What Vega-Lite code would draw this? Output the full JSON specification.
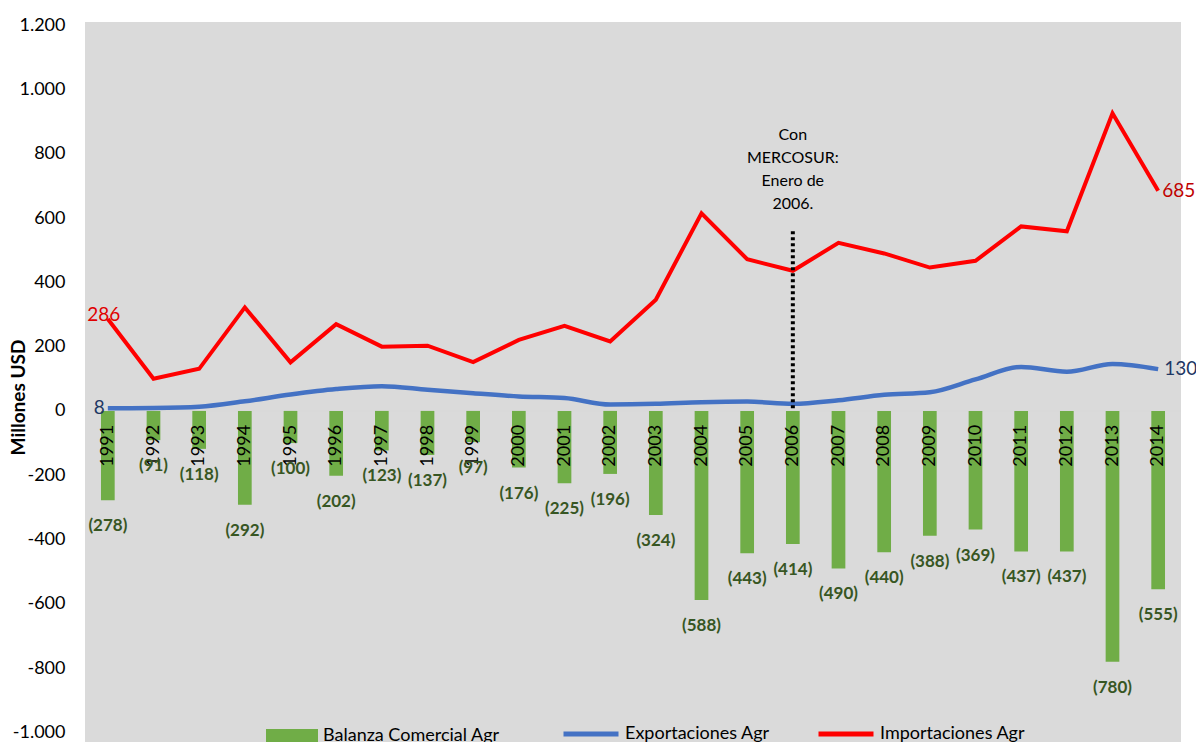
{
  "$schema": "https://vega.github.io/schema/vega-lite/v6.json",
  "width": 1096,
  "height": 720,
  "autosize": "none",
  "padding": {"left": 85, "top": 22, "right": 15, "bottom": 0},
  "background": "white",
  "config": {
    "locale": {"number": {"decimal": ",", "thousands": ".", "grouping": [3], "currency": ["$", ""], "minus": "-"}},
    "view": {"stroke": null, "fill": "#dadada"},
    "font": "Lato"
  },
  "data": {
    "values": [
      {"year": "1991", "bal": -278, "exp": 8, "imp": 286},
      {"year": "1992", "bal": -91, "exp": 9, "imp": 100},
      {"year": "1993", "bal": -118, "exp": 13, "imp": 131},
      {"year": "1994", "bal": -292, "exp": 30, "imp": 322},
      {"year": "1995", "bal": -100, "exp": 51, "imp": 151},
      {"year": "1996", "bal": -202, "exp": 68, "imp": 270},
      {"year": "1997", "bal": -123, "exp": 77, "imp": 200},
      {"year": "1998", "bal": -137, "exp": 66, "imp": 203},
      {"year": "1999", "bal": -97, "exp": 55, "imp": 152},
      {"year": "2000", "bal": -176, "exp": 45, "imp": 221},
      {"year": "2001", "bal": -225, "exp": 40, "imp": 265},
      {"year": "2002", "bal": -196, "exp": 20, "imp": 216},
      {"year": "2003", "bal": -324, "exp": 22, "imp": 346},
      {"year": "2004", "bal": -588, "exp": 27, "imp": 615},
      {"year": "2005", "bal": -443, "exp": 29, "imp": 472},
      {"year": "2006", "bal": -414, "exp": 22, "imp": 436},
      {"year": "2007", "bal": -490, "exp": 33, "imp": 523},
      {"year": "2008", "bal": -440, "exp": 50, "imp": 490},
      {"year": "2009", "bal": -388, "exp": 58, "imp": 446},
      {"year": "2010", "bal": -369, "exp": 98, "imp": 467},
      {"year": "2011", "bal": -437, "exp": 137, "imp": 574},
      {"year": "2012", "bal": -437, "exp": 122, "imp": 559},
      {"year": "2013", "bal": -780, "exp": 146, "imp": 926},
      {"year": "2014", "bal": -555, "exp": 130, "imp": 685}
    ]
  },
  "encoding": {
    "x": {"field": "year", "type": "ordinal", "scale": {"paddingInner": 0, "paddingOuter": 0}, "axis": null}
  },
  "layer": [
    {
      "data": {"values": [{}]},
      "mark": {"type": "rule", "color": "#d9d9d9", "strokeWidth": 2},
      "encoding": {"x": null, "y": {"datum": 0, "type": "quantitative"}}
    },
    {
      "mark": {"type": "bar", "width": {"band": 0.3}},
      "encoding": {
        "y": {
          "field": "bal", "type": "quantitative",
          "scale": {"domain": [-1030, 1210], "nice": false, "zero": false},
          "axis": {
            "values": [-1000, -800, -600, -400, -200, 0, 200, 400, 600, 800, 1000, 1200],
            "format": ",d", "grid": false, "domain": false, "ticks": false,
            "labelFont": "Lato", "labelFontSize": 18, "labelColor": "black", "labelPadding": 20,
            "title": "Millones USD", "titleFont": "Lato", "titleFontSize": 19, "titleFontWeight": "bold",
            "titleColor": "black", "titleX": -67, "titleY": 375, "titleAngle": -90, "titleBaseline": "middle", "titleAlign": "center"
          }
        },
        "y2": {"datum": 0},
        "fill": {
          "datum": "Balanza Comercial Agr",
          "scale": {"range": ["#70ad47"]},
          "legend": {
            "orient": "none", "legendX": 181, "legendY": 688, "title": null, "padding": 0,
            "symbolType": "M-1,-0.27H1V0.27H-1Z", "symbolSize": 2704, "symbolStrokeWidth": 0,
            "labelFont": "Lato", "labelFontSize": 18, "labelColor": "black", "labelOffset": 5, "labelLimit": 400
          }
        }
      }
    },
    {
      "mark": {"type": "text", "angle": -90, "align": "right", "baseline": "middle", "dx": -14, "font": "Lato", "fontSize": 18, "color": "black"},
      "encoding": {"y": {"datum": 0, "type": "quantitative"}, "text": {"field": "year"}}
    },
    {
      "mark": {"type": "text", "baseline": "middle", "dy": 26, "font": "Lato", "fontSize": 17, "fontWeight": "bold", "color": "#375623"},
      "encoding": {"y": {"field": "bal", "type": "quantitative"}, "text": {"field": "bal", "format": "(d"}}
    },
    {
      "mark": {"type": "line", "strokeWidth": 4.5, "interpolate": "monotone"},
      "encoding": {
        "y": {"field": "exp", "type": "quantitative"},
        "stroke": {
          "datum": "Exportaciones Agr",
          "scale": {"domain": ["Exportaciones Agr", "Importaciones Agr"], "range": ["#4472c4", "#ff0000"]},
          "legend": {
            "orient": "none", "legendX": 476, "legendY": 682, "title": null, "padding": 0, "direction": "horizontal",
            "symbolType": "stroke", "symbolSize": 3025, "symbolStrokeWidth": 5,
            "labelFont": "Lato", "labelFontSize": 18, "labelColor": "black", "labelOffset": 4, "labelLimit": 400, "columnPadding": 38
          }
        }
      }
    },
    {
      "mark": {"type": "line", "strokeWidth": 4},
      "encoding": {
        "y": {"field": "imp", "type": "quantitative"},
        "stroke": {"datum": "Importaciones Agr"}
      }
    },
    {
      "data": {"values": [{}]},
      "mark": {"type": "rule", "color": "black", "strokeWidth": 4, "strokeDash": [3, 3]},
      "encoding": {"x": {"datum": "2006"}, "y": {"datum": 8, "type": "quantitative"}, "y2": {"datum": 565}}
    },
    {
      "data": {"values": [{}]},
      "mark": {"type": "text", "align": "center", "baseline": "middle", "lineHeight": 23, "font": "Lato", "fontSize": 16, "color": "black",
        "text": ["Con", "MERCOSUR:", "Enero de", "2006."]},
      "encoding": {"x": {"datum": "2006"}, "y": {"datum": 858, "type": "quantitative"}}
    },
    {
      "transform": [{"filter": "datum.year == '1991'"}],
      "mark": {"type": "text", "align": "center", "baseline": "middle", "dx": -4, "dy": -4, "font": "Lato", "fontSize": 19, "color": "#e00000"},
      "encoding": {"y": {"field": "imp", "type": "quantitative"}, "text": {"field": "imp"}}
    },
    {
      "transform": [{"filter": "datum.year == '1991'"}],
      "mark": {"type": "text", "align": "right", "baseline": "middle", "dx": -3, "font": "Lato", "fontSize": 19, "color": "#1f3864"},
      "encoding": {"y": {"field": "exp", "type": "quantitative"}, "text": {"field": "exp"}}
    },
    {
      "transform": [{"filter": "datum.year == '2014'"}],
      "mark": {"type": "text", "align": "left", "baseline": "middle", "dx": 4, "font": "Lato", "fontSize": 19, "color": "#c00000"},
      "encoding": {"y": {"field": "imp", "type": "quantitative"}, "text": {"field": "imp"}}
    },
    {
      "transform": [{"filter": "datum.year == '2014'"}],
      "mark": {"type": "text", "align": "left", "baseline": "middle", "dx": 6, "font": "Lato", "fontSize": 19, "color": "#1f3864"},
      "encoding": {"y": {"field": "exp", "type": "quantitative"}, "text": {"field": "exp"}}
    }
  ]
}
